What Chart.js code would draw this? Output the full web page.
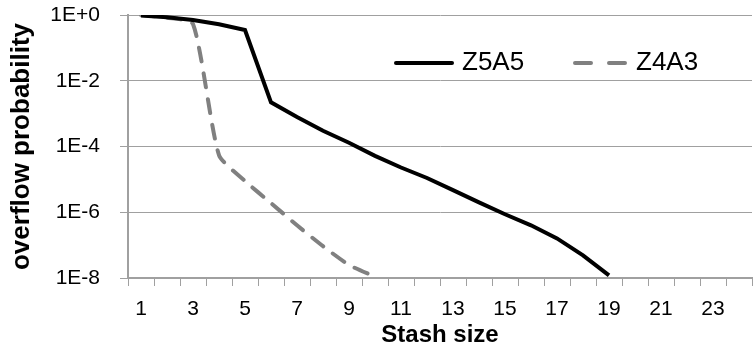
<!DOCTYPE html>
<html>
<head>
<meta charset="utf-8">
<script src="https://cdn.jsdelivr.net/npm/chart.js@4"></script>
<style>
  html, body { margin: 0; padding: 0; background: #fff; }
  #wrap { width: 754px; height: 350px; }
</style>
</head>
<body>
<div id="wrap"><canvas id="stashChart" width="754" height="350"></canvas></div>
<script>
// Stash sizes on the x axis
const stashSizes = [1, 2, 3, 4, 5, 6, 7, 8, 9, 10, 11, 12, 13, 14, 15, 16, 17, 18, 19, 20, 21, 22, 23, 24];

// Overflow probability per stash size (null = not plotted)
const z5a5 = [0.97, 0.85, 0.7, 0.52, 0.35, 2.2e-3, 7.9e-4, 3e-4, 1.3e-4, 5.2e-5, 2.3e-5, 1.1e-5,
              4.7e-6, 2.0e-6, 8.7e-7, 4e-7, 1.6e-7, 4.9e-8, 1.2e-8, null, null, null, null, null];
const z4a3 = [1.0, 0.83, 0.53, 5.5e-5, 8.9e-6, 1.9e-6, 4e-7, 9.3e-8, 2.5e-8, 1.1e-8, null, null,
              null, null, null, null, null, null, null, null, null, null, null, null];

// y axis ticks
const yTickValues = [1, 1e-2, 1e-4, 1e-6, 1e-8];
const yTickLabels = ['1E+0', '1E-2', '1E-4', '1E-6', '1E-8'];

const FONT = 'Liberation Sans';
const GRID = '#a0a0a0';

// legend drawn inside the plot area, top right
const insideLegend = {
    id: 'insideLegend',
    afterDraw(chart) {
        const ctx = chart.ctx;
        const items = [
            { ds: chart.data.datasets[0], x: 396, w: 56, dash: [] },
            { ds: chart.data.datasets[1], x: 575, w: 51, dash: [16, 18] }
        ];
        const y = 63;
        ctx.save();
        ctx.font = '26px "' + FONT + '"';
        ctx.textBaseline = 'middle';
        items.forEach(it => {
            ctx.beginPath();
            ctx.strokeStyle = it.ds.borderColor;
            ctx.lineWidth = it.ds.borderWidth;
            ctx.lineCap = 'round';
            ctx.setLineDash(it.dash);
            ctx.moveTo(it.x, y);
            ctx.lineTo(it.x + it.w, y);
            ctx.stroke();
            ctx.setLineDash([]);
            ctx.fillStyle = '#000';
            ctx.fillText(it.ds.label, it.x + it.w + 10, y);
        });
        ctx.restore();
    }
};

new Chart(document.getElementById('stashChart'), {
    type: 'line',
    data: {
        labels: stashSizes,
        datasets: [
            {
                label: 'Z5A5',
                data: z5a5,
                borderColor: '#000000',
                borderWidth: 4,
                pointRadius: 0,
                fill: false,
                tension: 0,
                spanGaps: false
            },
            {
                label: 'Z4A3',
                data: z4a3,
                borderColor: '#808080',
                borderWidth: 4,
                borderDash: [14, 12],
                borderCapStyle: 'round',
                pointRadius: 0,
                fill: false,
                tension: 0.2,
                spanGaps: false
            }
        ]
    },
    options: {
        responsive: false,
        animation: false,
        layout: { padding: { left: 0, right: 2, top: 15, bottom: 0 } },
        plugins: {
            legend: { display: false },
            tooltip: { enabled: false }
        },
        scales: {
            x: {
                type: 'category',
                offset: true,
                grid: {
                    offset: true,
                    drawOnChartArea: false,
                    drawTicks: true,
                    tickLength: 8,
                    color: GRID
                },
                border: { color: GRID, width: 2 },
                ticks: {
                    autoSkip: false,
                    maxRotation: 0,
                    padding: 11,
                    color: '#000',
                    font: { family: FONT, size: 21 },
                    callback: (val, i) => (i % 2 === 0 ? String(stashSizes[i]) : '')
                },
                title: {
                    display: true,
                    text: 'Stash size',
                    color: '#000',
                    font: { family: FONT, size: 24, weight: 'bold' },
                    padding: { top: 0, bottom: 0 }
                },
                afterFit(scale) {
                    scale.height = 72;
                    scale.paddingLeft = 0;
                    scale.paddingRight = 0;
                }
            },
            y: {
                type: 'logarithmic',
                min: 1e-8,
                max: 1,
                grid: {
                    color: GRID,
                    drawTicks: true,
                    tickLength: 8
                },
                border: { color: GRID, width: 2 },
                ticks: {
                    padding: 20,
                    color: '#000',
                    font: { family: FONT, size: 21 },
                    callback: (val) => {
                        const i = yTickValues.findIndex(v => Math.abs(Math.log10(v) - Math.log10(val)) < 1e-6);
                        return i >= 0 ? yTickLabels[i] : '';
                    }
                },
                afterBuildTicks(scale) {
                    scale.ticks = yTickValues.map(v => ({ value: v }));
                },
                title: {
                    display: true,
                    text: 'overflow probability',
                    color: '#000',
                    font: { family: FONT, size: 26, weight: 'bold' },
                    padding: { top: 6, bottom: 0 }
                },
                afterFit(scale) {
                    scale.width = 128;
                    scale.paddingTop = 0;
                    scale.paddingBottom = 0;
                }
            }
        }
    },
    plugins: [insideLegend]
});
</script>
</body>
</html>
